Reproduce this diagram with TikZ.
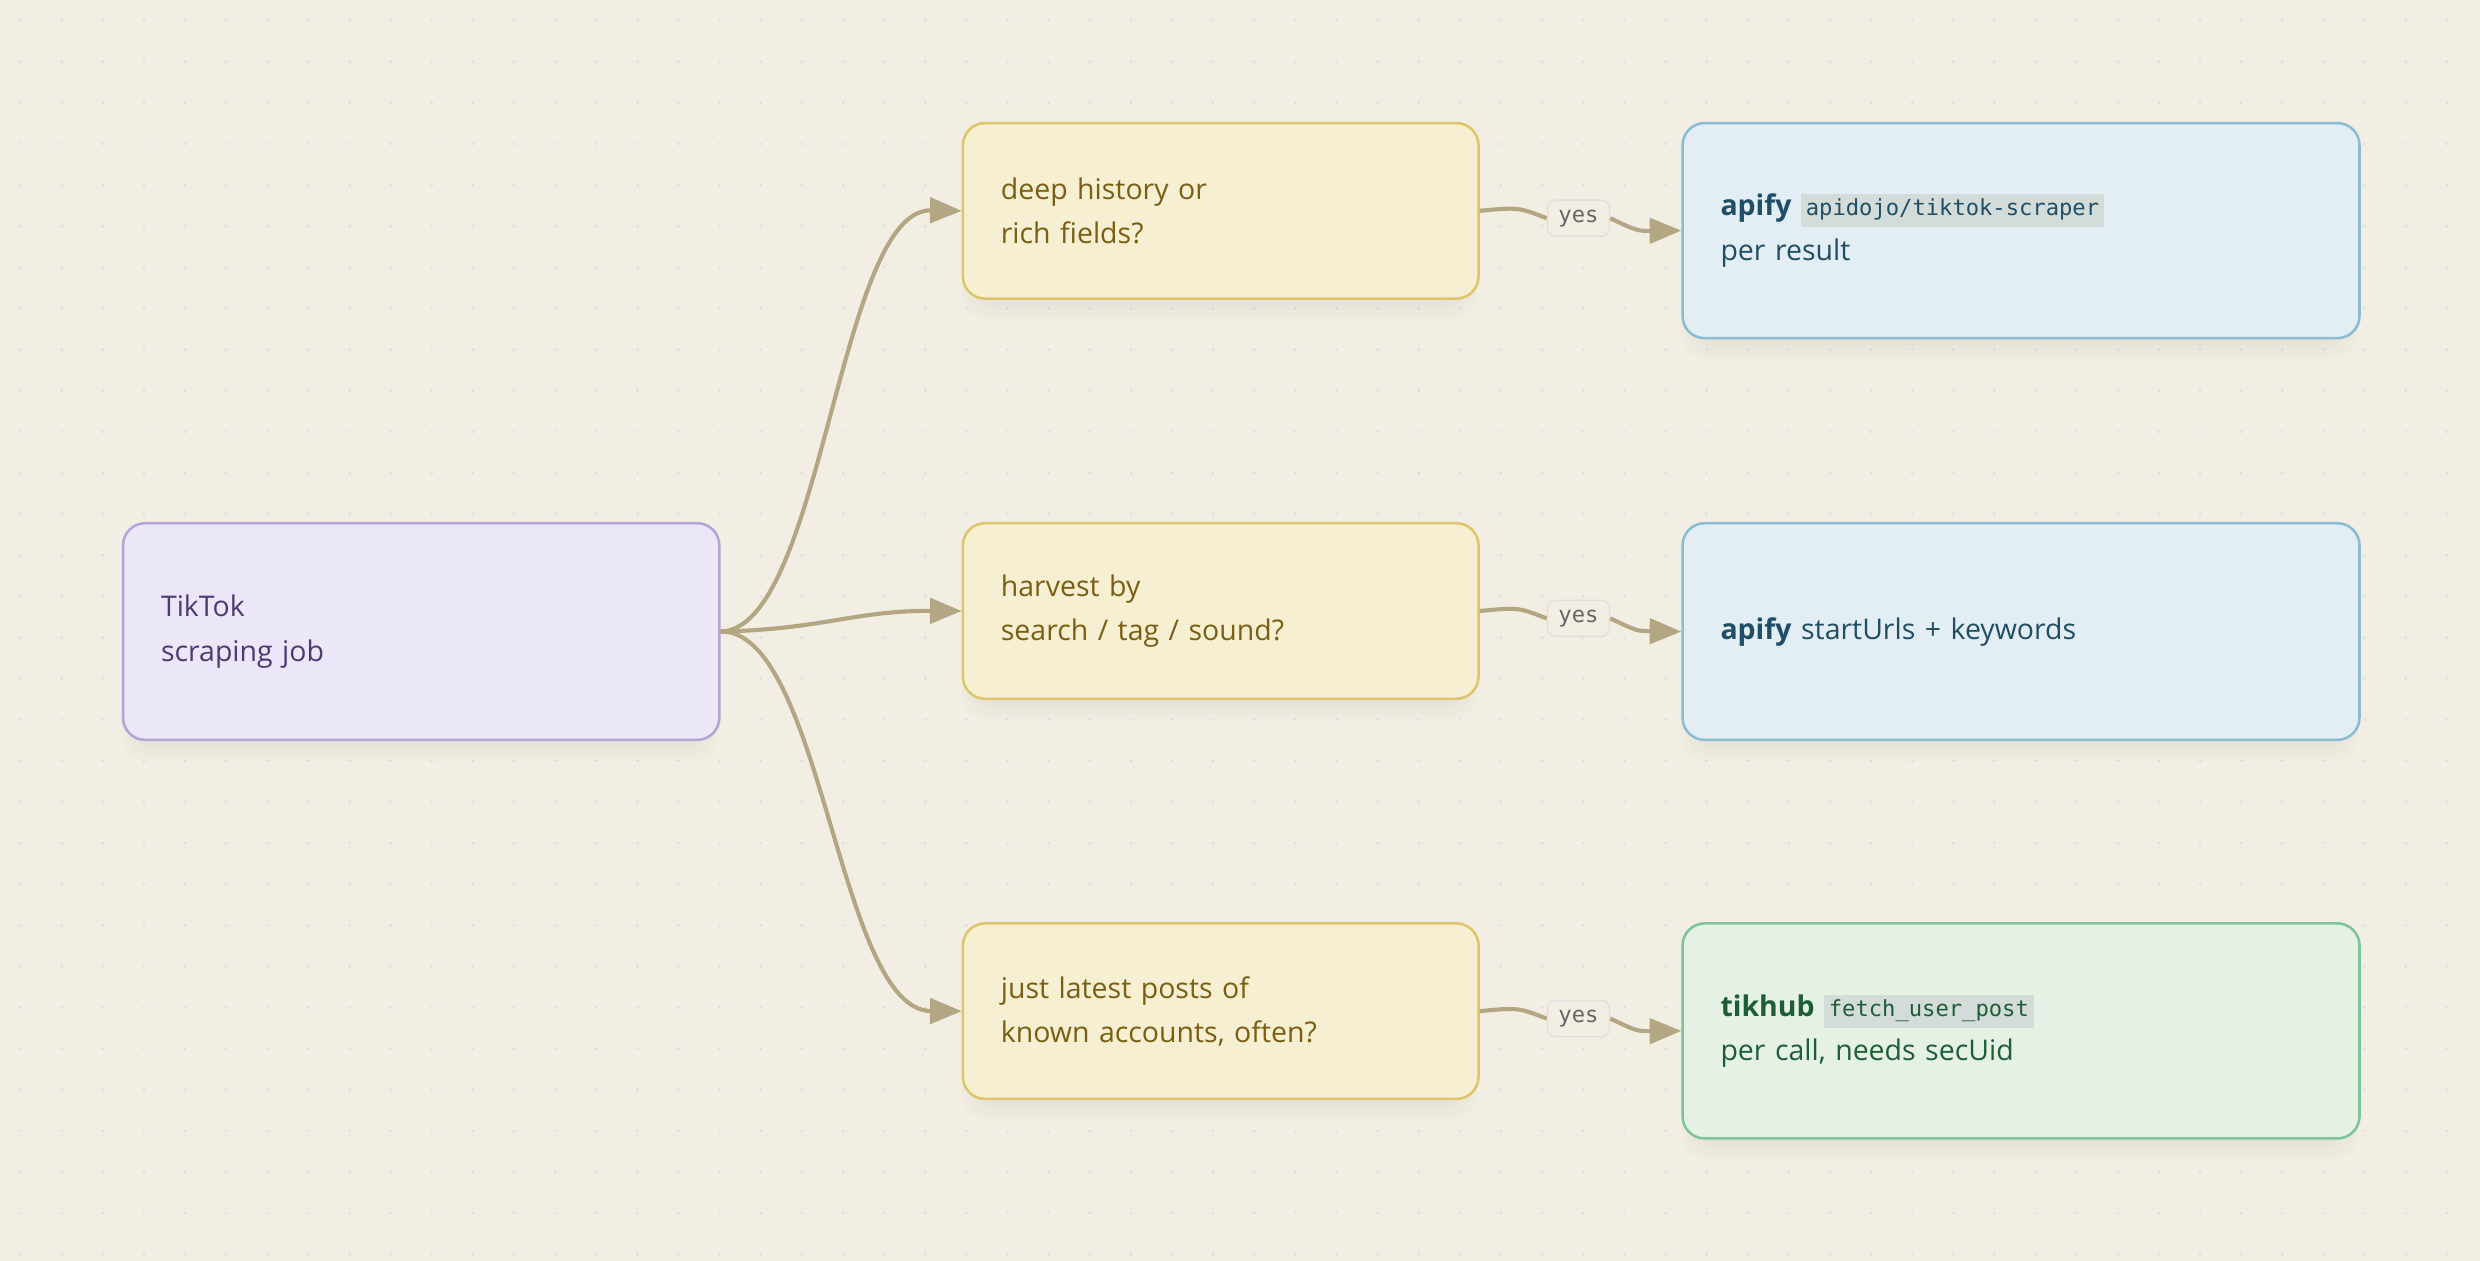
\documentclass[tikz,border=0pt]{standalone}
\usepackage{fontspec}
\setmainfont{Open Sans}
\newfontfamily\mono{DejaVu Sans Mono}
\usetikzlibrary{arrows.meta}
\definecolor{bg}{HTML}{F3EEE3}
\definecolor{edge}{HTML}{B3A682}
\definecolor{pf}{HTML}{ECE7F8}\definecolor{pd}{HTML}{B5A3DA}\definecolor{pt}{HTML}{4B3B73}
\definecolor{yf}{HTML}{F7EFD2}\definecolor{yd}{HTML}{DDC66A}\definecolor{yt}{HTML}{7A5E12}
\definecolor{bf}{HTML}{E2EEF3}\definecolor{bd}{HTML}{8BBCD6}\definecolor{bt}{HTML}{1F4E66}
\definecolor{gf}{HTML}{E5F1E5}\definecolor{gd}{HTML}{7CC49A}\definecolor{gt}{HTML}{1E5E36}
\definecolor{cb}{HTML}{D3DCD9}
\newcommand{\mycode}[1]{{\setlength{\fboxsep}{3pt}\colorbox{cb}{\mono\fontsize{14}{14}\selectfont\strut #1}}}
\begin{document}
\begin{tikzpicture}[x=1pt,y=-1pt,
 box/.style n args={2}{rounded corners=14pt,line width=1.6pt,minimum height=#1,minimum width=#2,text width=#2-48pt,anchor=north west,align=left,inner xsep=24pt,font=\fontsize{18}{28}\selectfont},
 yes/.style={fill=bg,draw=black!12,rounded corners=5pt,line width=1pt,inner xsep=7pt,inner ysep=6pt,font=\mono\fontsize{14}{14}\selectfont,text=black!60},
 arr/.style={edge,line width=2.6pt,-{Triangle[length=20pt,width=16pt]}},
 ln/.style={edge,line width=2.6pt}]
\fill[bg] (0,0) rectangle (1568,797);
\useasboundingbox (0,0) rectangle (1568,797);
\foreach \i in {0,...,60}{\foreach \j in {0,...,31}{\fill[black!13] (\i*26+13,\j*26+13) circle (0.9pt);}}
% shadows
\foreach \a/\b/\c/\d in {77/330/454/467,608/77/934/188,608/330/934/441,608/583/934/694,1063/77/1491/213,1063/330/1491/467,1063/583/1491/719}
 {\foreach \k in {0,3,6,9}{\fill[black,opacity=0.012,rounded corners=16pt] (\a+\k,\b+6+\k) rectangle (\c-\k,\d+14-\k);}}
\node[box={137pt}{377pt},fill=pf,draw=pd,text=pt] (job) at (77,330) {TikTok\\scraping job};
\node[box={111pt}{326pt},fill=yf,draw=yd,text=yt] (q1) at (608,77) {deep history or\\rich fields?};
\node[box={111pt}{326pt},fill=yf,draw=yd,text=yt] (q2) at (608,330) {harvest by\\search / tag / sound?};
\node[box={111pt}{326pt},fill=yf,draw=yd,text=yt] (q3) at (608,583) {just latest posts of\\known accounts, often?};
\node[box={136pt}{428pt},fill=bf,draw=bd,text=bt] (a1) at (1063,77) {\textbf{apify} \mycode{apidojo/tiktok-scraper}\\per result};
\node[box={137pt}{428pt},fill=bf,draw=bd,text=bt] (a2) at (1063,330) {\textbf{apify} startUrls + keywords};
\node[box={136pt}{428pt},fill=gf,draw=gd,text=gt] (a3) at (1063,583) {\textbf{tikhub} \mycode{fetch\_user\_post}\\per call, needs secUid};
\coordinate (s) at (job.east);
\draw[arr] (s) .. controls (520,398) and (530,132) .. (q1.west);
\draw[arr] (s) .. controls (520,398) and (540,386) .. (q2.west);
\draw[arr] (s) .. controls (520,398) and (530,639) .. (q3.west);
\foreach \q/\a/\y in {q1/a1/138,q2/a2/391,q3/a3/644}{
 \node[yes] (y\q) at (998,\y) {yes};
 \draw[ln] (\q.east) .. controls (960,\y-7) .. (y\q.west);
 \draw[arr] (y\q.east) .. controls (1035,\y+8) .. (\a.west);
}
\end{tikzpicture}
\end{document}
